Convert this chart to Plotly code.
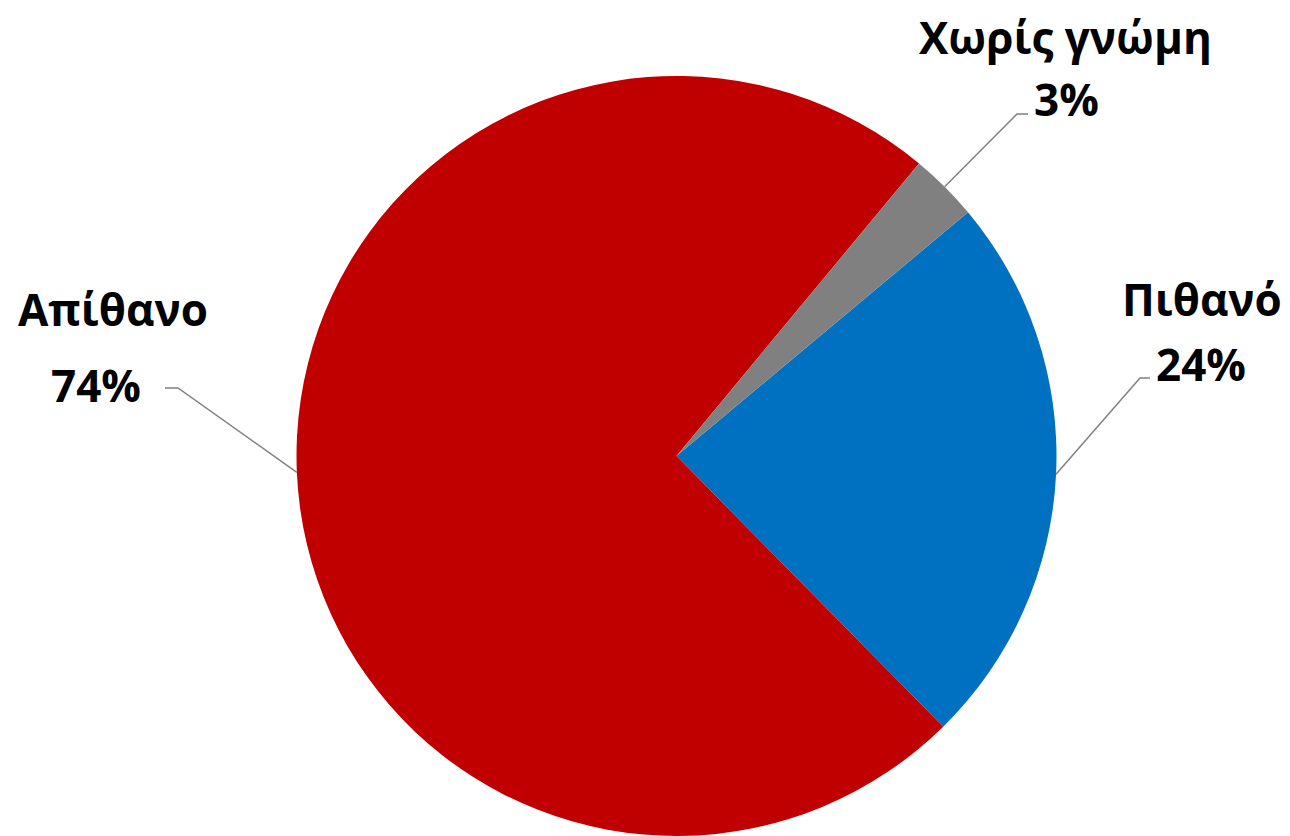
import math
import plotly.graph_objects as go

# ---- data ----
categories = ["Πιθανό", "Απίθανο", "Χωρίς γνώμη"]
values = [23.7, 73.4, 2.9]
pct_labels = ["24%", "74%", "3%"]
colors = ["#0070C0", "#C00000", "#808080"]

# ---- layout constants (pixels) ----
W, H = 1290, 836
CX, CY, R = 676.5, 456.0, 380.0
START_ANGLE = 50.1  # degrees clockwise from 12 o'clock where first slice starts

# label positions: (name center x, name center y, pct center x, pct center y, elbow x, elbow y, end x)
label_pos = {
    "Πιθανό": (1202, 299, 1201, 364, 1140, 378, 1150),
    "Απίθανο": (113, 309, 96, 385, 178, 388, 165),
    "Χωρίς γνώμη": (1065, 37, 1066, 99, 1017, 114, 1028),
}

FONT = "Open Sans"
FS = 44


def px(x):
    return x / W


def py(y):
    return 1 - y / H


fig = go.Figure(
    go.Pie(
        labels=categories,
        values=values,
        marker=dict(colors=colors, line=dict(width=0)),
        sort=False,
        direction="clockwise",
        rotation=START_ANGLE,
        textinfo="none",
        hoverinfo="label+percent",
        showlegend=False,
        domain=dict(x=[(CX - R) / W, (CX + R) / W], y=[py(CY + R), py(CY - R)]),
    )
)

annotations = []
shapes = []
total = sum(values)
angle = START_ANGLE
for cat, v, pl in zip(categories, values, pct_labels):
    span = v / total * 360
    mid = math.radians(angle + span / 2)
    angle += span
    ex = CX + R * math.sin(mid)
    ey = CY - R * math.cos(mid)
    nx, ny, qx, qy, bx, by, tx = label_pos[cat]
    annotations.append(dict(x=px(nx), y=py(ny), xref="paper", yref="paper", text=f"<b>{cat}</b>",
                            showarrow=False, xanchor="center", yanchor="middle",
                            font=dict(family=FONT, size=FS, color="#000000")))
    annotations.append(dict(x=px(qx), y=py(qy), xref="paper", yref="paper", text=f"<b>{pl}</b>",
                            showarrow=False, xanchor="center", yanchor="middle",
                            font=dict(family=FONT, size=FS, color="#000000")))
    shapes.append(dict(type="path", xref="paper", yref="paper",
                       path=f"M {px(ex)} {py(ey)} L {px(bx)} {py(by)} L {px(tx)} {py(by)}",
                       line=dict(color="#808080", width=1.5)))

fig.update_layout(
    width=W,
    height=H,
    margin=dict(l=0, r=0, t=0, b=0),
    paper_bgcolor="white",
    plot_bgcolor="white",
    annotations=annotations,
    shapes=shapes,
)

fig.write_html("out.html", config={"displayModeBar": False},
               post_script="document.body.style.margin='0px';")
